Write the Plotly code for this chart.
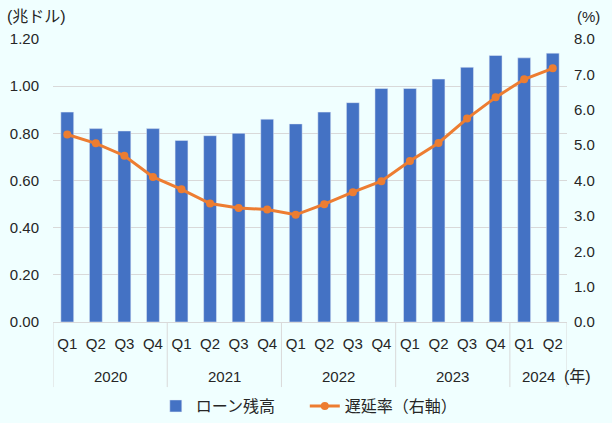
import plotly.graph_objects as go

years = ["2020"] * 4 + ["2021"] * 4 + ["2022"] * 4 + ["2023"] * 4 + ["2024"] * 2
quarters = ["Q1", "Q2", "Q3", "Q4"] * 4 + ["Q1", "Q2"]
loan_balance = [0.89, 0.82, 0.81, 0.82, 0.77, 0.79, 0.80, 0.86, 0.84, 0.89,
                0.93, 0.99, 0.99, 1.03, 1.08, 1.13, 1.12, 1.14]
delinquency_rate = [5.3, 5.05, 4.7, 4.1, 3.75, 3.35, 3.22, 3.18, 3.03, 3.33,
                    3.67, 3.98, 4.55, 5.06, 5.75, 6.35, 6.86, 7.17]

FONT = "Liberation Sans, Noto Sans CJK JP"
TXT = "#262626"
BG = "#F0FFFF"
GRID = "#D9D9D9"
FS = 15

idx = list(range(len(quarters)))

# group boundaries/centres from the year list
groups = []
start = 0
for i in range(1, len(years) + 1):
    if i == len(years) or years[i] != years[start]:
        groups.append((years[start], start, i - 1))
        start = i

fig = go.Figure()
fig.add_trace(go.Bar(
    x=idx, y=loan_balance, name="ローン残高",
    marker_color="#4472C4", yaxis="y",
))
fig.add_trace(go.Scatter(
    x=idx, y=delinquency_rate, name="遅延率（右軸）",
    mode="lines+markers", line=dict(color="#ED7D31", width=3),
    marker=dict(color="#ED7D31", size=8), yaxis="y2",
))

annotations = []
shapes = []
YEAR_Y = -0.194
DIV_Y = -0.23
for name, a, b in groups:
    annotations.append(dict(text=name, xref="x", yref="paper", x=(a + b) / 2, y=YEAR_Y,
                            xanchor="center", yanchor="middle", showarrow=False,
                            font=dict(size=FS, color=TXT)))
    shapes.append(dict(type="line", xref="x", yref="paper", x0=a - 0.5, x1=a - 0.5,
                       y0=0, y1=DIV_Y, line=dict(color=GRID, width=1)))
shapes.append(dict(type="line", xref="x", yref="paper", x0=len(idx) - 0.5, x1=len(idx) - 0.5,
                   y0=0, y1=DIV_Y, line=dict(color=GRID, width=1)))

annotations += [
    dict(text="(兆ドル)", xref="paper", yref="paper", x=-0.093, y=1.078,
         xanchor="left", yanchor="middle", showarrow=False,
         font=dict(size=16, color=TXT)),
    dict(text="(%)", xref="paper", yref="paper", x=1.041, y=1.078,
         xanchor="center", yanchor="middle", showarrow=False,
         font=dict(size=FS, color=TXT)),
    dict(text="(年)", xref="paper", yref="paper", x=0.99, y=YEAR_Y,
         xanchor="left", yanchor="middle", showarrow=False,
         font=dict(size=16, color=TXT)),
]

fig.update_layout(
    width=612, height=423,
    margin=dict(l=53, r=45, t=39, b=101, autoexpand=False),
    paper_bgcolor=BG, plot_bgcolor=BG,
    font=dict(family=FONT, size=FS, color=TXT),
    bargap=0.55,
    showlegend=True,
    legend=dict(orientation="h", x=0.2, xanchor="left", y=-0.297, yanchor="middle",
                font=dict(size=16, color=TXT), bgcolor="rgba(0,0,0,0)",
                itemwidth=30, tracegroupgap=0, entrywidth=104),
    xaxis=dict(
        range=[-0.5, len(idx) - 0.5], tickmode="array", tickvals=idx, ticktext=quarters,
        showline=True, linecolor=GRID, linewidth=1, ticks="",
        tickfont=dict(size=FS, color=TXT), showgrid=False, zeroline=False,
        ticklabelstandoff=8, automargin=False,
    ),
    yaxis=dict(
        range=[0, 1.2], dtick=0.2, tickformat=".2f", showgrid=True,
        gridcolor=GRID, gridwidth=1, zeroline=False, showline=False,
        tickfont=dict(size=FS, color=TXT), ticklabelstandoff=13, automargin=False,
    ),
    yaxis2=dict(
        range=[0, 8], dtick=1, tickformat=".1f", overlaying="y", side="right",
        showgrid=False, zeroline=False, showline=False,
        tickfont=dict(size=FS, color=TXT), ticklabelstandoff=6, automargin=False,
    ),
    annotations=annotations,
    shapes=shapes,
)

fig.write_html("out.html", config={"displayModeBar": False},
               post_script="document.body.style.margin='0';")
